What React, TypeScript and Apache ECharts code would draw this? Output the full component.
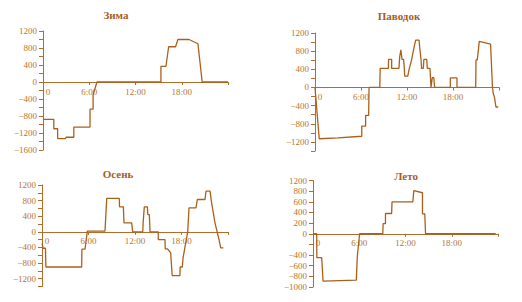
import React, { useEffect, useRef } from "react";
import * as echarts from "echarts";

// Hours of day and power values
const xTickLabels = ["0", "6:00", "12:00", "18:00"];

const winterHours = [0, 1.4, 1.4, 1.9, 1.9, 2.9, 3.0, 4.0, 4.0, 6.1, 6.1, 6.5, 6.5, 7.0, 15.3, 15.3, 15.95, 16.3, 17.2, 17.5, 18.95, 20.1, 20.65, 24];
const winterValues = [-880, -880, -1100, -1100, -1330, -1330, -1300, -1300, -1060, -1060, -640, -640, -300, 0, 0, 370, 370, 830, 830, 1000, 1000, 900, 0, 0];

const floodHours = [0, 0.55, 3.0, 6.1, 6.1, 6.6, 6.6, 7.0, 7.05, 8.45, 8.5, 9.57, 9.6, 10.0, 10.0, 10.95, 11.05, 11.2, 11.35, 11.55, 11.65, 11.7, 12.1, 12.3, 12.57, 12.83, 13.13, 13.57, 13.7, 13.83, 13.9, 14.13, 14.2, 14.57, 14.65, 15.0, 15.13, 15.3, 15.5, 15.6, 17.65, 17.65, 18.52, 18.52, 20.96, 21.0, 21.17, 21.43, 22.9, 23.15, 23.25, 23.4, 23.6, 23.9];
const floodValues = [0, -1130, -1110, -1075, -850, -850, -615, -615, 0, 0, 420, 420, 620, 620, 420, 420, 680, 830, 620, 620, 420, 250, 250, 420, 585, 810, 1045, 1045, 810, 620, 420, 420, 620, 620, 420, 420, 0, 215, 215, 0, 0, 210, 210, 0, 0, 607, 607, 1015, 955, 0, -133, -207, -430, -430];

const autumnHours = [0, 0.15, 0.45, 0.5, 5.12, 5.15, 5.55, 5.85, 8.13, 8.35, 9.98, 10.0, 10.5, 10.58, 11.57, 11.7, 13.0, 13.05, 13.2, 13.6, 13.65, 13.85, 13.94, 15.0, 15.0, 15.87, 15.9, 16.2, 16.6, 16.8, 17.8, 17.82, 18.1, 18.2, 18.8, 18.97, 19.87, 20.04, 21.03, 21.16, 21.68, 21.85, 22.32, 22.6, 22.84, 23.06, 23.4];
const autumnValues = [-300, -420, -420, -900, -900, -445, -445, 20, 20, 855, 855, 640, 640, 230, 230, 0, 0, 230, 640, 640, 443, 443, 0, 0, -197, -197, -436, -436, -540, -1120, -1120, -900, -900, -667, 0, 615, 615, 828, 828, 1041, 1041, 785, 230, 0, -197, -410, -410];

const summerHours = [0, 0.48, 0.5, 1.13, 1.3, 5.62, 5.75, 6.05, 9.05, 9.1, 9.4, 9.4, 10.2, 10.25, 12.95, 13.08, 14.2, 14.2, 14.5, 14.6, 23.7];
const summerValues = [0, 0, -450, -450, -890, -870, -420, 0, 0, 190, 190, 380, 380, 600, 600, 810, 770, 375, 375, 0, 0];

const titles = ["Зима", "Паводок", "Осень", "Лето"];

const LINE = "#ad5f1a";
const AXIS = "#b36d2a";
const TEXT = "#b97430";
const FONT = "Liberation Serif";

const fmtNum = (v: number) => (v < 0 ? "\u2212" + Math.abs(v) : String(v));

export default function App() {
  const ref = useRef<HTMLDivElement>(null);
  useEffect(() => {
    if (!ref.current) return;
    const chart = echarts.init(ref.current, null, { renderer: "svg" });

    const panels = [
      { title: titles[0], hours: winterHours, values: winterValues, left: 43, top: 31, width: 185, height: 119, min: -1600, max: 1200, tx: 116, ty: 15, summer: false },
      { title: titles[1], hours: floodHours, values: floodValues, left: 315, top: 33, width: 184, height: 118, min: -1400, max: 1200, tx: 399, ty: 16, summer: false },
      { title: titles[2], hours: autumnHours, values: autumnValues, left: 42, top: 185, width: 186, height: 101.5, min: -1400, max: 1200, tx: 118, ty: 174, summer: false },
      { title: titles[3], hours: summerHours, values: summerValues, left: 313, top: 180.5, width: 185, height: 106.5, min: -1000, max: 1000, tx: 406, ty: 176, summer: true },
    ];

    const option: any = {
      animation: false,
      backgroundColor: "#ffffff",
      grid: panels.map((p) => ({ left: p.left, top: p.top, width: p.width, height: p.height, containLabel: false })),
      xAxis: panels.map((p, i) => ({
        gridIndex: i,
        type: "value",
        position: "bottom",
        offset: -(p.height * -p.min) / (p.max - p.min),
        min: 0,
        max: 24,
        interval: 6,
        axisLine: { show: true, onZero: false, lineStyle: { color: AXIS, width: 1 } },
        axisTick: { show: true, length: 3, lineStyle: { color: AXIS, width: 1 } },
        splitLine: { show: false },
        axisLabel: {
          fontSize: 9,
          fontFamily: FONT,
          color: TEXT,
          margin: 5,
          formatter: (v: number) => {
            const idx = Math.round(v / 6);
            if (idx === 0) return "{z|" + xTickLabels[0] + "}";
            return idx < xTickLabels.length ? xTickLabels[idx] : "";
          },
          rich: { z: { fontSize: 9, fontFamily: FONT, color: TEXT, padding: [0, 0, 0, 10] } },
        },
      })),
      yAxis: panels.map((p, i) => ({
        gridIndex: i,
        type: "value",
        min: p.min,
        max: p.max,
        interval: 200,
        axisLine: { show: true, onZero: false, lineStyle: { color: AXIS, width: 1 } },
        axisTick: { show: true, length: 4, lineStyle: { color: AXIS, width: 1 } },
        splitLine: { show: false },
        axisLabel: {
          fontSize: 9,
          fontFamily: FONT,
          color: TEXT,
          margin: 6,
          formatter: (v: number) => {
            if (p.summer) {
              if (v === 1000) return "1200";
              if (v === -200) return "";
              return fmtNum(v);
            }
            return v % 400 === 0 ? fmtNum(v) : "";
          },
        },
      })),
      series: panels.map((p, i) => ({
        type: "line",
        xAxisIndex: i,
        yAxisIndex: i,
        showSymbol: false,
        symbol: "none",
        lineStyle: { color: LINE, width: 1.3 },
        data: p.hours.map((h, k) => [h, p.values[k]]),
      })),
      graphic: panels.map((p) => ({
        type: "text",
        x: p.tx,
        y: p.ty,
        style: {
          text: p.title,
          fill: "#a65d1c",
          fontSize: 11,
          fontWeight: "bold",
          fontFamily: FONT,
          align: "center",
          verticalAlign: "middle",
        },
      })),
    };
    chart.setOption(option);
    return () => chart.dispose();
  }, []);
  return <div ref={ref} style={{ position: "absolute", left: 0, top: 0, width: 522, height: 302 }} />;
}
